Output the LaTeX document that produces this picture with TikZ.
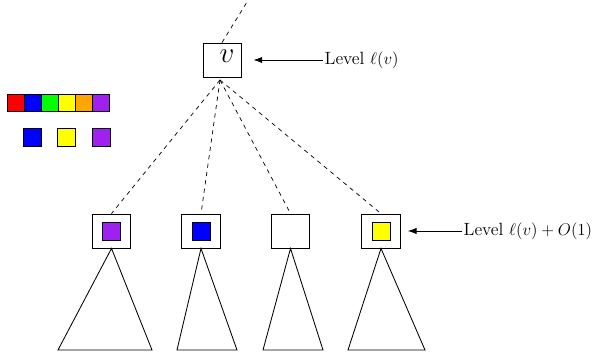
\documentclass[tikz,border=0pt]{standalone}
\usetikzlibrary{arrows.meta}
\definecolor{swred}{RGB}{255,0,0}
\definecolor{swblue}{RGB}{0,0,255}
\definecolor{swgreen}{RGB}{0,255,0}
\definecolor{swyellow}{RGB}{255,255,0}
\definecolor{sworange}{RGB}{255,165,0}
\definecolor{swpurple}{RGB}{160,32,240}
\begin{document}
\begin{tikzpicture}[x=0.025cm,y=-0.025cm,
  box/.style={draw,line width=0.6pt,minimum width=0.97cm,minimum height=0.85cm,inner sep=0pt},
  swatch/.style={draw,line width=0.5pt,minimum size=0.43cm,inner sep=0pt},
  inner/.style={draw,line width=0.5pt,minimum size=0.45cm,inner sep=0pt},
  link/.style={dashed,line width=0.5pt},
  tree/.style={line width=0.6pt},
  pointer/.style={-{Latex[length=2.2mm,width=1.6mm]},line width=0.6pt},
  lbl/.style={anchor=west,font=\fontsize{12.6}{15}\selectfont,inner sep=1pt}]
\useasboundingbox (0,0) rectangle (596,352);

% root node v and its incoming edge
\node[box,minimum width=0.95cm] (v) at (222,60) {};
\node[font=\huge,inner sep=0pt] (vname) at (227,56) {$v$};
\coordinate (up) at (247,2);
\draw[link] (v.north) -- (up);

% colour palette
\node[swatch,fill=swred]    (p1) at (15.5,103) {};
\node[swatch,fill=swblue]   (p2) at (32.5,103) {};
\node[swatch,fill=swgreen]  (p3) at (49.5,103) {};
\node[swatch,fill=swyellow] (p4) at (66.5,103) {};
\node[swatch,fill=sworange] (p5) at (83.5,103) {};
\node[swatch,fill=swpurple] (p6) at (100.5,103) {};
\node[inner,fill=swblue]    (q1) at (32,137) {};
\node[inner,fill=swyellow]  (q2) at (66.5,137) {};
\node[inner,fill=swpurple]  (q3) at (101,137) {};

% children at level l(v)+O(1)
\node[box] (c1) at (111.5,231) {};
\node[box] (c2) at (201,231) {};
\node[box] (c3) at (290.5,231) {};
\node[box] (c4) at (381,231) {};
\node[inner,fill=swpurple] (k1) at (c1) {};
\node[inner,fill=swblue]   (k2) at (c2) {};
\node[inner,fill=swyellow] (k4) at (c4) {};

% dashed paths from v down to the children
\coordinate (hub) at (220,80);
\foreach \c in {c1,c2,c3,c4}
  \draw[link] (hub) -- (\c.north);

% subtrees hanging below the children
\coordinate (b1l) at (58,350);  \coordinate (b1r) at (152,350);
\coordinate (b2l) at (177,350); \coordinate (b2r) at (237,350);
\coordinate (b3l) at (263,350); \coordinate (b3r) at (323,350);
\coordinate (b4l) at (348,350); \coordinate (b4r) at (425,350);
\draw[tree] (c1.south) -- (b1l) -- (b1r) -- cycle;
\draw[tree] (c2.south) -- (b2l) -- (b2r) -- cycle;
\draw[tree] (c3.south) -- (b3l) -- (b3r) -- cycle;
\draw[tree] (c4.south) -- (b4l) -- (b4r) -- cycle;

% level labels
\node[lbl] (lv) at (323,60) {Level $\ell(v)$};
\draw[pointer,shorten >=0.3cm] (lv.west) -- (lv.west -| v.east);
\node[lbl] (lc) at (462,231) {Level $\ell(v)+O(1)$};
\draw[pointer,shorten >=0.175cm] (lc.west) -- (lc.west -| c4.east);
\end{tikzpicture}
\end{document}
